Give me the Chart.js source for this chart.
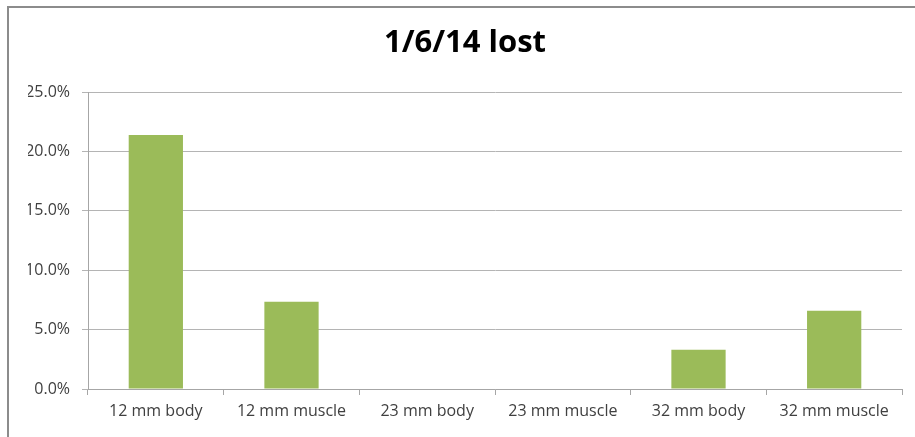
<!DOCTYPE html>
<html>
<head>
<meta charset="utf-8">
<script src="https://cdn.jsdelivr.net/npm/chart.js@4"></script>
<style>
  html, body { margin: 0; padding: 0; background: #fff; overflow: hidden; }
  #wrap { position: relative; width: 915px; height: 437px; overflow: hidden; }
  #frameTop { position: absolute; left: 7px; top: 6px; width: 908px; height: 2px; background: #8c8c8c; }
  #frameLeft { position: absolute; left: 7px; top: 6px; width: 2px; height: 431px; background: #8c8c8c; }
  canvas { position: absolute; left: 0; top: 0; }
</style>
</head>
<body>
<div id="wrap">
  <div id="frameTop"></div>
  <div id="frameLeft"></div>
  <canvas id="c" width="915" height="437"></canvas>
</div>
<script>
const titleText = '1/6/14 lost';
const categories = ['12 mm body', '12 mm muscle', '23 mm body', '23 mm muscle', '32 mm body', '32 mm muscle'];
const lostPercent = [21.4, 7.35, 0, 0, 3.3, 6.6];
const yMin = 0, yMax = 25, yStep = 5;

new Chart(document.getElementById('c'), {
  type: 'bar',
  data: {
    labels: categories,
    datasets: [{
      data: lostPercent,
      backgroundColor: '#9bbb59',
      borderWidth: 0,
      categoryPercentage: 1,
      barPercentage: 0.4
    }]
  },
  options: {
    responsive: false,
    animation: false,
    devicePixelRatio: 1,
    layout: { padding: { left: 28, right: 13, top: 0, bottom: 0 } },
    plugins: {
      legend: { display: false },
      tooltip: { enabled: false },
      title: {
        display: true,
        text: titleText,
        color: '#000',
        font: { family: 'Open Sans', size: 31, weight: 'bold' },
        padding: { top: 25, bottom: 30 }
      }
    },
    scales: {
      x: {
        grid: { display: true, drawOnChartArea: false, drawTicks: true, tickLength: 6, color: '#a6a6a6', offset: true },
        border: { display: true, color: '#a6a6a6', width: 1 },
        ticks: { color: '#404040', font: { family: 'Open Sans', size: 16 }, padding: 7, maxRotation: 0, autoSkip: false },
        afterFit: s => { s.height = 48; }
      },
      y: {
        min: yMin, max: yMax,
        grid: { color: '#b4b4b4', lineWidth: 1, tickLength: 6, drawTicks: true },
        border: { display: true, color: '#a6a6a6', width: 1 },
        ticks: {
          stepSize: yStep,
          color: '#404040',
          font: { family: 'Open Sans', size: 16 },
          padding: 12,
          callback: v => v.toFixed(1) + '%'
        },
        afterFit: s => { s.width = 60; }
      }
    }
  }
});
</script>
</body>
</html>
